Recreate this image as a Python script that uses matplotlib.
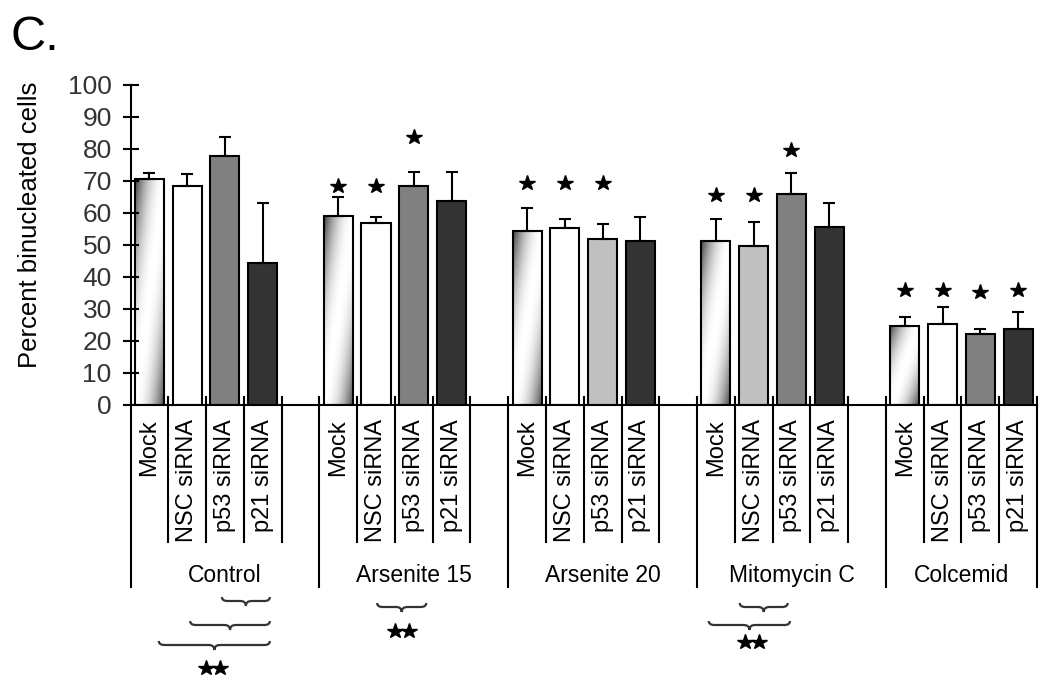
import numpy as np
import matplotlib.pyplot as plt
from matplotlib.path import Path
from matplotlib.patches import PathPatch

plt.rcParams['font.family'] = ['Liberation Sans', 'DejaVu Sans']

# data
groups = ["Control", "Arsenite 15", "Arsenite 20", "Mitomycin C", "Colcemid"]
treatments = ["Mock", "NSC siRNA", "p53 siRNA", "p21 siRNA"]

control = [70.5, 68.5, 77.9, 44.5]
control_err = [2.0, 3.6, 5.9, 18.7]
arsenite15 = [59.2, 56.8, 68.5, 63.6]
arsenite15_err = [5.9, 2.0, 4.4, 9.3]
arsenite20 = [54.3, 55.2, 51.8, 51.3]
arsenite20_err = [7.4, 2.9, 4.9, 7.5]
mitomycin = [51.3, 49.8, 66.0, 55.7]
mitomycin_err = [6.9, 7.4, 6.4, 7.3]
colcemid = [24.7, 25.2, 22.2, 23.6]
colcemid_err = [2.9, 5.4, 1.7, 5.5]

values = [control, arsenite15, arsenite20, mitomycin, colcemid]
errors = [control_err, arsenite15_err, arsenite20_err, mitomycin_err, colcemid_err]

# height of the "*" above each bar (None = no star)
star_y = [
    [None, None, None, None],
    [68.4, 68.4, 83.7, None],
    [69.4, 69.4, 69.4, None],
    [65.6, 65.6, 79.7, None],
    [35.9, 35.9, 35.3, 35.9],
]

# braces under the table: group, start, end (in bar units), pixel row
braces = [
    (0, 1.92, 3.19, 601),
    (0, 1.08, 3.19, 625),
    (0, 0.25, 3.19, 645),
    (1, 1.03, 2.33, 607),
    (3, 0.63, 1.90, 607),
    (3, -0.19, 1.96, 625),
]
# "**" marks: group, x (bar units), pixel row
double_stars = [(0, 1.68, 668), (1, 1.69, 631), (3, 0.95, 642)]

# fill style per bar
fills = [
    ["grad", "white", "#808080", "#333333"],
    ["grad", "white", "#808080", "#333333"],
    ["grad", "white", "#c0c0c0", "#333333"],
    ["grad", "#c0c0c0", "#808080", "#333333"],
    ["grad", "white", "#808080", "#333333"],
]

W, H = 1050, 679
fig = plt.figure(figsize=(W / 100, H / 100), dpi=100)
ax = fig.add_axes([130.5 / W, (H - 405) / H, 906.5 / W, 320 / H])


def yfrac(py):
    # pixel row -> axes fraction
    return (405 - py) / 320


xt = ax.get_xaxis_transform()
ngroup = 5  # 4 bars + 1 empty slot

for g, (vals, errs) in enumerate(zip(values, errors)):
    xs = [g * ngroup + i for i in range(len(vals))]
    for i, (x, v) in enumerate(zip(xs, vals)):
        fc = fills[g][i]
        bar = ax.bar(x, v, width=0.77, color="white" if fc == "grad" else fc,
                     edgecolor="black", linewidth=1.5, zorder=2)[0]
        if fc == "grad":
            bar.set_facecolor("none")
            u = np.linspace(0, 1, 60)[None, :]
            w = np.linspace(0, 1, 200)[:, None]
            shade = 1 - 0.75 * np.abs(u - w) ** 2.0
            im = ax.imshow(shade, extent=[x - 0.385, x + 0.385, 0, v], origin="lower",
                           aspect="auto", cmap="gray", vmin=0, vmax=1, zorder=1.5)
            im.set_clip_path(bar)
    ax.errorbar(xs, vals, yerr=[np.zeros(len(errs)), errs], fmt="none", ecolor="black",
                elinewidth=1.5, capsize=4, capthick=1.5, zorder=3)
    for i, sy in enumerate(star_y[g]):
        if sy is not None:
            ax.plot(xs[i], sy, marker="*", ms=11.5, color="black", zorder=4)
    # sub-category labels
    for i, name in enumerate(treatments):
        ax.text(xs[i], yfrac(419), name, rotation=90, ha="center", va="top",
                transform=xt, fontsize=17)

# category table lines
nslots = ngroup * len(groups) - 1
for b in range(nslots + 1):
    xb = b - 0.5
    long_line = (b % ngroup == 0) or b == nslots
    bottom = yfrac(587) if long_line else yfrac(542)
    top = 0 if b == 0 else yfrac(397)
    ax.plot([xb, xb], [top, bottom], transform=xt, clip_on=False, color="black", lw=1.5)

for g, name in enumerate(groups):
    lo = g * ngroup - 0.5
    hi = min(lo + ngroup, nslots - 0.5)
    ax.text((lo + hi) / 2, yfrac(582), name, ha="center", va="baseline",
            transform=xt, fontsize=16.5)

# braces
for g, a, b, row in braces:
    x0, x1 = g * ngroup + a, g * ngroup + b
    xm = (x0 + x1) / 2
    d = 0.15
    verts = [(x0, yfrac(row - 4)), (x0, yfrac(row)), (x0 + d, yfrac(row)),
             (xm - d, yfrac(row)), (xm, yfrac(row)), (xm, yfrac(row + 5)),
             (xm, yfrac(row)), (xm + d, yfrac(row)),
             (x1 - d, yfrac(row)), (x1, yfrac(row)), (x1, yfrac(row - 4))]
    codes = [Path.MOVETO, Path.CURVE3, Path.CURVE3,
             Path.LINETO, Path.CURVE3, Path.CURVE3,
             Path.CURVE3, Path.CURVE3,
             Path.LINETO, Path.CURVE3, Path.CURVE3]
    ax.add_patch(PathPatch(Path(verts, codes), facecolor="none", edgecolor="#333333",
                           lw=1.6, transform=xt, clip_on=False))

for g, xm, row in double_stars:
    xc = g * ngroup + xm
    ax.plot([xc - 0.18, xc + 0.18], [yfrac(row)] * 2, ls="none", marker="*", ms=11.5,
            color="black", transform=xt, clip_on=False)

ax.set_xlim(-0.5, nslots - 0.5)
ax.set_ylim(0, 100)
ax.set_yticks(range(0, 101, 10))
ax.set_xticks([])
ax.tick_params(axis="y", direction="inout", length=11, width=1.5, labelsize=19,
               pad=8, labelcolor="#333333")
for s in ["top", "right"]:
    ax.spines[s].set_visible(False)
ax.spines["left"].set_linewidth(1.5)
ax.spines["bottom"].set_linewidth(1.5)

fig.text(30 / W, 1 - 225 / H, "Percent binucleated cells", rotation=90, ha="center",
         va="center", fontsize=18.5)
fig.text(10 / W, 1 - 50 / H, "C.", fontsize=35, va="baseline")

fig.savefig("out.png", dpi=100)
